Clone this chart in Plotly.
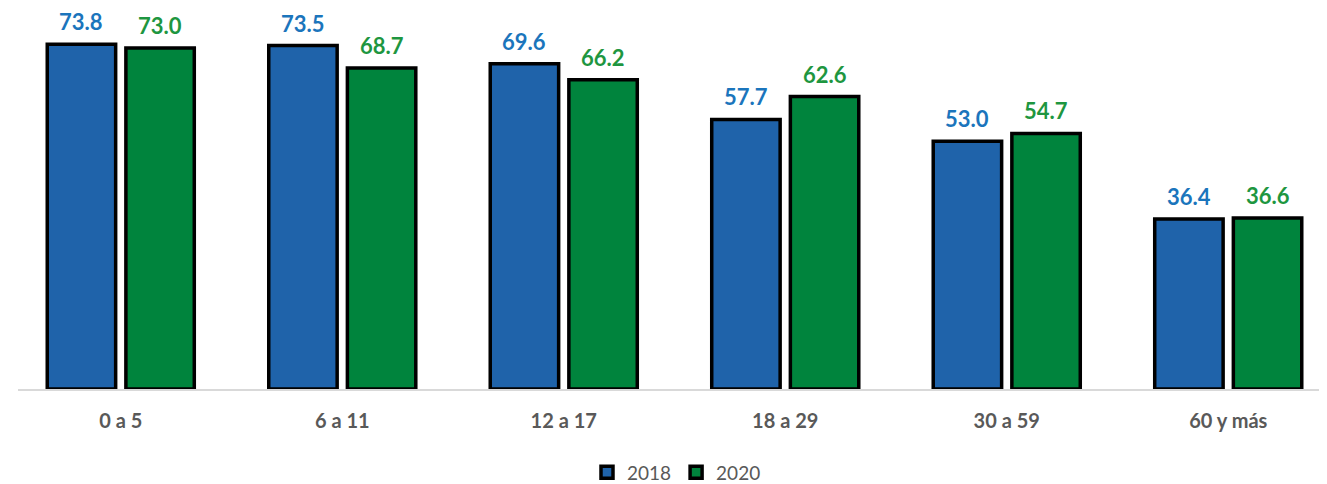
import plotly.graph_objects as go

categories = ["0 a 5", "6 a 11", "12 a 17", "18 a 29", "30 a 59", "60 y más"]
values_2018 = [73.8, 73.5, 69.6, 57.7, 53.0, 36.4]
values_2020 = [73.0, 68.7, 66.2, 62.6, 54.7, 36.6]

BAR_GAP = 0.29
BAR_GROUP_GAP = 0.13

fig = go.Figure()
fig.add_trace(go.Bar(
    name="2018", x=categories, y=values_2018,
    marker=dict(color="#1F63AA", line=dict(color="#000000", width=3.5)),
))
fig.add_trace(go.Bar(
    name="2020", x=categories, y=values_2020,
    marker=dict(color="#00843D", line=dict(color="#000000", width=3.5)),
))

# value labels placed above each bar, using the axis scales
slot = (1 - BAR_GAP) / 2
for series, vals, color, sign in [("2018", values_2018, "#1B75BC", -1),
                                  ("2020", values_2020, "#1E9640", 1)]:
    for i, v in enumerate(vals):
        fig.add_annotation(
            x=i + sign * slot / 2, y=v, xref="x", yref="y",
            text=f"<b>{v:.1f}</b>", showarrow=False,
            yanchor="bottom", yshift=8, borderpad=0,
            font=dict(color=color, size=22, family="Lato"),
        )

fig.update_layout(
    width=1327, height=484,
    margin=dict(l=10, r=0, t=10, b=96),
    paper_bgcolor="white", plot_bgcolor="white",
    barmode="group", bargap=BAR_GAP, bargroupgap=BAR_GROUP_GAP,
    font=dict(family="Lato", color="#595959"),
    showlegend=True,
    legend=dict(orientation="h", x=0.5, xanchor="center", y=-0.225, yanchor="middle",
                font=dict(size=19, color="#595959"), traceorder="normal", itemwidth=30),
    xaxis=dict(range=[-0.464, 5.482], showline=True, linecolor="#D9D9D9", linewidth=2,
               showgrid=False, ticks="", ticklabelstandoff=13,
               tickfont=dict(size=20, color="#595959", family="Lato", weight="bold")),
    yaxis=dict(range=[0, 79.4], visible=False, showgrid=False),
)

fig.write_html("out.html")
